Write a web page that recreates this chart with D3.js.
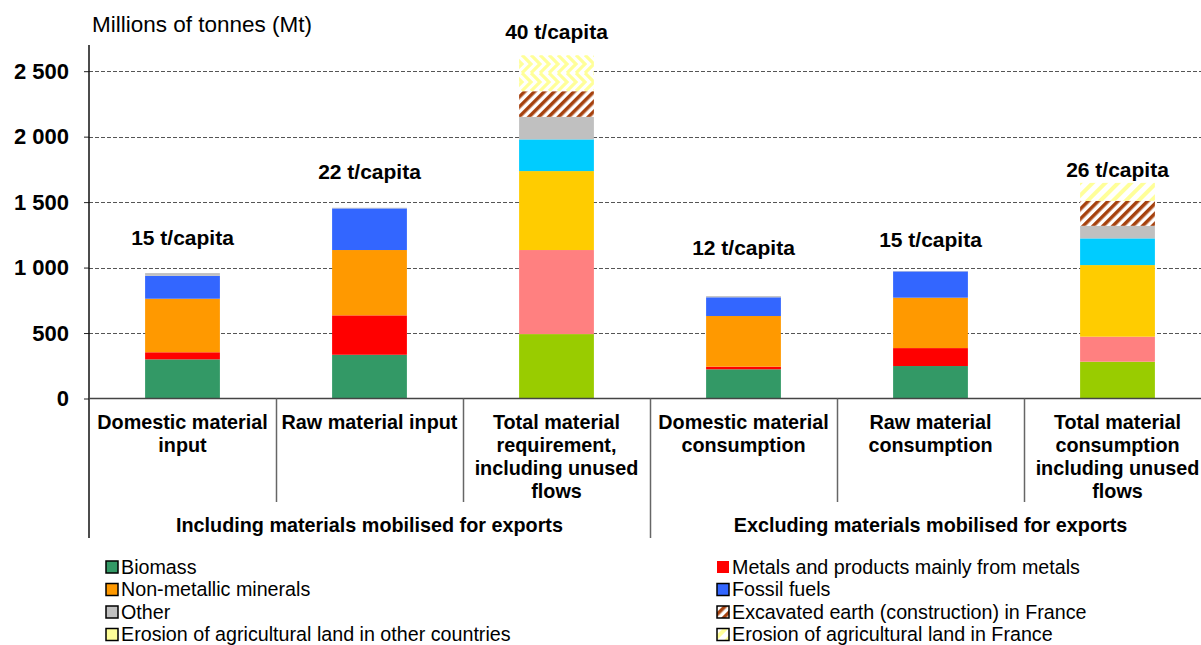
<!DOCTYPE html>
<html>
<head>
<meta charset="utf-8">
<script src="https://cdn.jsdelivr.net/npm/d3@7"></script>
<style>
  body { margin: 0; background: #fff; }
  svg { display: block; font-family: "Liberation Sans", Arial, sans-serif; }
</style>
</head>
<body>
<svg></svg>
<script>
const width = 1201;
const height = 645;

// data (Mt)
const categories = ['DMI', 'RMI', 'TMR', 'DMC', 'RMC', 'TMC'];
const categoryLines = [
    ['Domestic material', 'input'],
    ['Raw material input'],
    ['Total material', 'requirement,', 'including unused', 'flows'],
    ['Domestic material', 'consumption'],
    ['Raw material', 'consumption'],
    ['Total material', 'consumption', 'including unused', 'flows']
];
const groups = ['Including materials mobilised for exports', 'Excluding materials mobilised for exports'];
const biomass = [299, 334, 492, 223, 248, 281];
const metals = [54, 301, 642, 20, 137, 191];
const nonMetallic = [409, 499, 603, 387, 385, 547];
const fossil = [175, 318, 242, 143, 201, 204];
const other = [21, 5, 172, 9, 3, 96];
const excavated = [0, 0, 196, 0, 0, 191];
const erosionOther = [0, 0, 275, 0, 0, 0];
const erosionFrance = [0, 0, 0, 0, 0, 137];
const perCapita = ['15 t/capita', '22 t/capita', '40 t/capita', '12 t/capita', '15 t/capita', '26 t/capita'];
const yTicks = [0, 500, 1000, 1500, 2000, 2500];

const keys = ['biomass', 'metals', 'nonMetallic', 'fossil', 'other', 'excavated', 'erosionOther', 'erosionFrance'];
const legendNames = {
    biomass: 'Biomass',
    metals: 'Metals and products mainly from metals',
    nonMetallic: 'Non-metallic minerals',
    fossil: 'Fossil fuels',
    other: 'Other',
    excavated: 'Excavated earth (construction) in France',
    erosionOther: 'Erosion of agricultural land in other countries',
    erosionFrance: 'Erosion of agricultural land in France'
};

// layout
const x0 = 89, x1 = 1211, yBase = 398.5, yTop = 45;
const labelLift = [35, 36, 24, 48, 31, 13];
const totals = ['TMR', 'TMC'];

const colors = {
    biomass: '#339966', metals: '#FF0000', nonMetallic: '#FF9900', fossil: '#3366FF',
    other: '#C0C0C0', excavated: 'url(#hatch)', erosionOther: 'url(#chevron)', erosionFrance: 'url(#diag)'
};
const totalColors = {
    biomass: '#99CC00', metals: '#FF8080', nonMetallic: '#FFCC00', fossil: '#00CCFF'
};

let svg = d3.select('svg').attr('width', width).attr('height', height);

// patterns
let defs = svg.append('defs');
let hatch = defs.append('pattern').attr('id', 'hatch').attr('patternUnits', 'userSpaceOnUse')
    .attr('width', 7).attr('height', 7).attr('patternTransform', 'rotate(45)');
hatch.append('rect').attr('width', 7).attr('height', 7).attr('fill', '#fff');
hatch.append('rect').attr('width', 3.5).attr('height', 7).attr('fill', '#A6420F');

let diag = defs.append('pattern').attr('id', 'diag').attr('patternUnits', 'userSpaceOnUse')
    .attr('width', 9).attr('height', 9).attr('patternTransform', 'rotate(45)');
diag.append('rect').attr('width', 9).attr('height', 9).attr('fill', '#fff');
diag.append('rect').attr('width', 4).attr('height', 9).attr('fill', '#FFFF99');

let chev = defs.append('pattern').attr('id', 'chevron').attr('patternUnits', 'userSpaceOnUse')
    .attr('width', 9).attr('height', 18).attr('y', 1);
chev.append('rect').attr('width', 9).attr('height', 18).attr('fill', '#fff');
chev.append('path').attr('d', 'M-9,0 L0,9 L-9,18 M0,0 L9,9 L0,18 M9,0 L18,9 L9,18')
    .attr('fill', 'none').attr('stroke', '#FFFF99').attr('stroke-width', 3.2);

// scales
let xScale = d3.scaleBand().domain(categories).range([x0, x1]).padding(0);
let yScale = d3.scaleLinear().domain([0, 2700]).range([yBase, yTop]);
const barW = xScale.bandwidth() * 0.4;

const locale = d3.formatLocale({ decimal: ',', thousands: ' ', grouping: [3], currency: ['', ' €'] });
const fmt = locale.format(',d');

// gridlines
svg.append('g').selectAll('line').data(yTicks.filter(d => d > 0)).enter().append('line')
    .attr('x1', x0).attr('x2', width)
    .attr('y1', d => Math.round(yScale(d)) + 0.5).attr('y2', d => Math.round(yScale(d)) + 0.5)
    .attr('stroke', '#555').attr('stroke-dasharray', '4,2');

// stacked bars
let rows = categories.map((c, i) => ({
    cat: c, biomass: biomass[i], metals: metals[i], nonMetallic: nonMetallic[i], fossil: fossil[i],
    other: other[i], excavated: excavated[i], erosionOther: erosionOther[i], erosionFrance: erosionFrance[i]
}));
let stacked = d3.stack().keys(keys)(rows);

svg.append('g').selectAll('g').data(stacked).enter().append('g')
    .selectAll('rect').data(s => s.map(d => ({ key: s.key, d: d }))).enter()
    .filter(o => o.d[1] - o.d[0] > 0)
    .append('rect')
    .attr('x', o => xScale(o.d.data.cat) + (xScale.bandwidth() - barW) / 2)
    .attr('width', barW)
    .attr('y', o => yScale(o.d[1]))
    .attr('height', o => yScale(o.d[0]) - yScale(o.d[1]))
    .attr('fill', o => (totals.includes(o.d.data.cat) && totalColors[o.key]) ? totalColors[o.key] : colors[o.key]);

// per capita labels
svg.append('g').selectAll('text').data(categories).enter().append('text')
    .attr('x', d => xScale(d) + xScale.bandwidth() / 2)
    .attr('y', (d, i) => yScale(d3.sum(keys, k => rows[i][k])) - labelLift[i])
    .attr('dy', '0.35em')
    .attr('text-anchor', 'middle')
    .style('font-size', '21px').style('font-weight', 'bold')
    .text((d, i) => perCapita[i]);

// y axis
let yAxis = d3.axisLeft(yScale).tickValues(yTicks).tickFormat(fmt).tickSize(5).tickPadding(15);
let gy = svg.append('g').attr('transform', 'translate(' + x0 + ',0)').call(yAxis);
gy.select('.domain').remove();
gy.selectAll('text').style('font-size', '22px').style('font-weight', 'bold').attr('fill', '#000');
gy.selectAll('line').attr('stroke', '#222');
svg.append('line').attr('x1', x0).attr('x2', x0).attr('y1', yTop).attr('y2', 538)
    .attr('stroke', '#111').attr('stroke-width', 1.5);

// x axis line
svg.append('line').attr('x1', x0).attr('x2', width).attr('y1', yBase).attr('y2', yBase)
    .attr('stroke', '#444').attr('stroke-width', 1.5);

// category dividers
svg.append('g').selectAll('line').data(categories.slice(1)).enter().append('line')
    .attr('x1', d => Math.round(xScale(d)) + 0.5).attr('x2', d => Math.round(xScale(d)) + 0.5)
    .attr('y1', yBase).attr('y2', d => d === 'DMC' ? 538 : 502)
    .attr('stroke', '#666').attr('stroke-width', 1.5);

// category labels
svg.append('g').selectAll('text').data(categories).enter().append('text')
    .attr('x', d => xScale(d) + xScale.bandwidth() / 2)
    .attr('y', 422)
    .attr('text-anchor', 'middle')
    .style('font-size', '19.8px').style('font-weight', 'bold')
    .each(function (d, i) {
        d3.select(this).selectAll('tspan').data(categoryLines[i]).enter().append('tspan')
            .attr('x', xScale(d) + xScale.bandwidth() / 2)
            .attr('dy', (t, j) => j === 0 ? '0.35em' : '23px')
            .text(t => t);
    });

// group labels
const groupCenters = [(x0 + xScale('DMC')) / 2, (xScale('DMC') + x1) / 2];
svg.append('g').selectAll('text').data(groups).enter().append('text')
    .attr('x', (d, i) => groupCenters[i])
    .attr('y', 525).attr('dy', '0.35em')
    .attr('text-anchor', 'middle')
    .style('font-size', '19.8px').style('font-weight', 'bold')
    .text(d => d);

// axis title
svg.append('text').attr('x', 92).attr('y', 24).attr('dy', '0.35em')
    .style('font-size', '22.5px').text('Millions of tonnes (Mt)');

// legend
const legendOrder = ['biomass', 'metals', 'nonMetallic', 'fossil', 'other', 'excavated', 'erosionOther', 'erosionFrance'];
const legendSwatch = Object.assign({}, colors, { erosionOther: '#FFFF99' });
let legend = svg.append('g').selectAll('g').data(legendOrder).enter().append('g')
    .attr('transform', (d, i) => 'translate(' + (i % 2 === 0 ? 106 : 717) + ',' + (567 + Math.floor(i / 2) * 22.5) + ')');
legend.append('rect').attr('x', 0).attr('y', -6).attr('width', 12).attr('height', 12)
    .attr('fill', d => legendSwatch[d])
    .attr('stroke', d => d === 'metals' ? 'none' : '#000').attr('stroke-width', 1.5);
legend.append('text').attr('x', 15).attr('dy', '0.35em')
    .style('font-size', '19.7px').text(d => legendNames[d]);
</script>
</body>
</html>
